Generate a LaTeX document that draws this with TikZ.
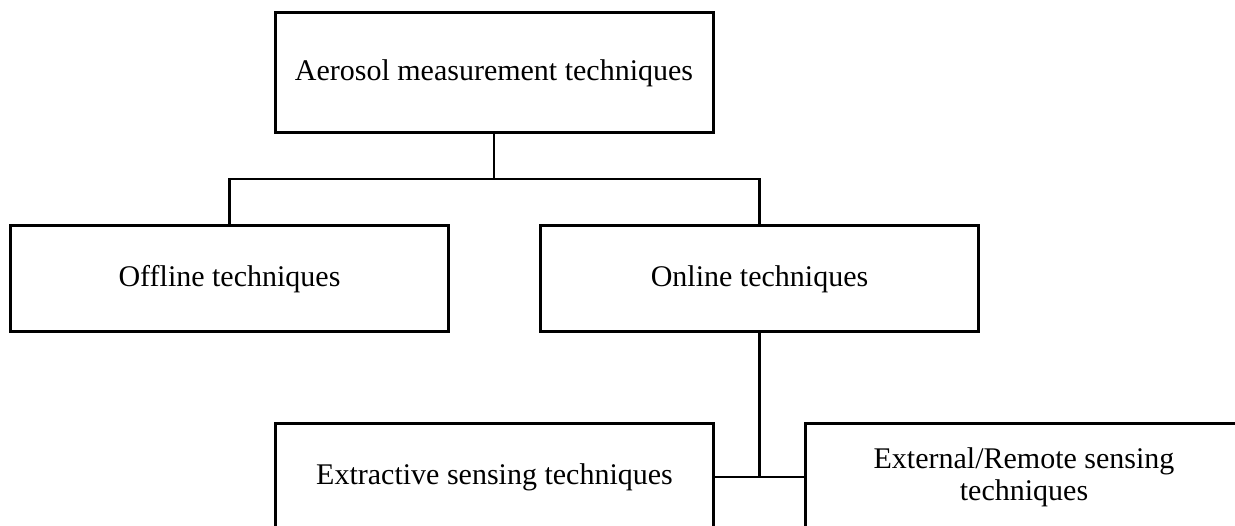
\documentclass[tikz,border=0pt]{standalone}
\usepackage{fontspec}
\setmainfont{Liberation Serif}
\begin{document}
\begin{tikzpicture}[x=1pt,y=-1pt,
  boxnode/.style={draw, line width=3pt, minimum width=438pt, minimum height=#1, inner sep=0pt, align=center, font=\fontsize{30}{32}\selectfont},
  boxnode/.default=106pt,
  conn/.style={line width=2.5pt}]
\useasboundingbox (0,0) rectangle (1235,526);
\clip (0,0) rectangle (1235,526);
\fill[white] (0,0) rectangle (1235,526);
\node[boxnode=120pt] (top) at (494,73) {Aerosol measurement techniques};
\node[boxnode] (off) at (229.5,279) {Offline techniques};
\node[boxnode] (on) at (759.5,279) {Online techniques};
\node[boxnode] (ext) at (494.5,477) {Extractive sensing techniques};
\node[boxnode] (rem) at (1024,477) {External/Remote sensing\\techniques};
\coordinate (split) at (494,179);
\draw[conn] (top.south) -- (split);
\draw[conn] (split) -| (off.north);
\draw[conn] (split) -| (on.north);
\coordinate (join) at (759.5,477);
\draw[conn] (on.south) -- (join);
\draw[conn] (ext.east) -- (rem.west);
\end{tikzpicture}
\end{document}
